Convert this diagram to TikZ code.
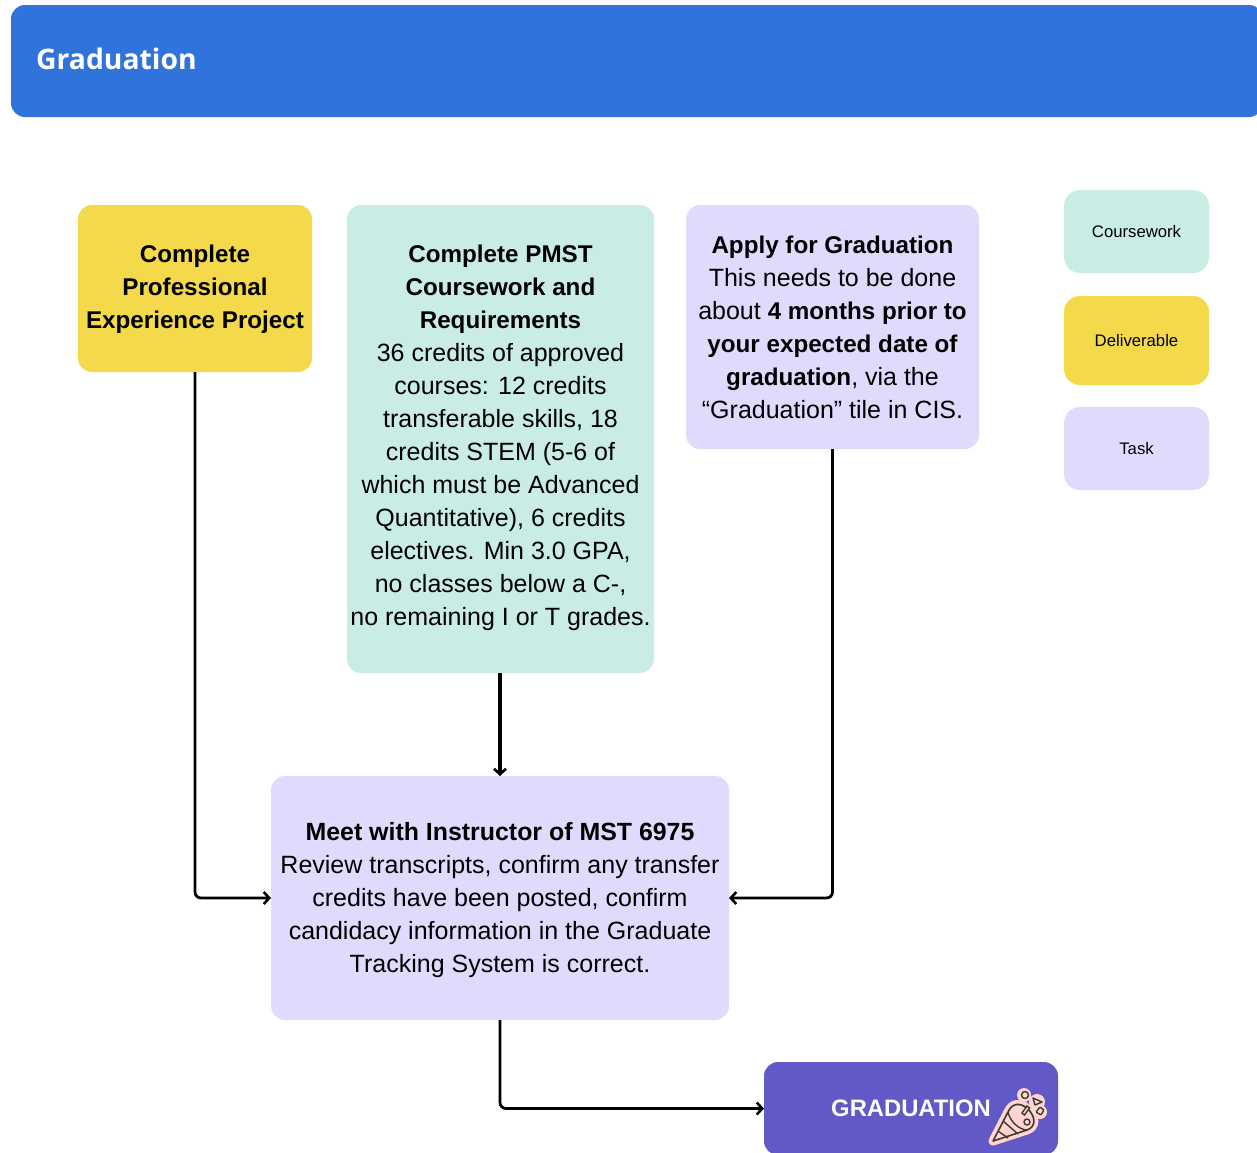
\documentclass[tikz,border=0pt]{standalone}
\usepackage{fontspec}
\setmainfont{Liberation Sans}
\newfontfamily\titlefont{Open Sans}
\usetikzlibrary{arrows.meta}
\definecolor{hdr}{HTML}{3074DB}
\definecolor{teal}{HTML}{C9EDE5}
\definecolor{yel}{HTML}{F4D94A}
\definecolor{lav}{HTML}{E0DBFD}
\definecolor{pur}{HTML}{6059C6}
\definecolor{halo}{HTML}{FFD5CE}
\definecolor{ink}{HTML}{3A3A3A}
\newcommand\boxtext[2]{\raisebox{#1}[0pt][0pt]{\begin{tabular}{@{}c@{}}#2\end{tabular}}}
\newcommand\hb[1]{{\bfseries\fontsize{24.2}{33}\selectfont #1}}
\newcommand\hbw[1]{{\bfseries\fontsize{24.9}{33}\selectfont #1}}
\tikzset{
 x=1pt,y=-1pt,
 card/.style={inner sep=0pt,outer sep=0pt,rounded corners=14pt,text=black,
   font=\fontsize{25}{33}\selectfont},
 legendcard/.style={card,rounded corners=16pt,font=\fontsize{16.7}{20}\selectfont},
 conn/.style={line width=2.8pt,rounded corners=6pt,-{Straight Barb[length=5.5pt,width=12pt,line width=2.6pt]}},
}
\newcommand\cardat[7]{% name, x0,y0,x1,y1, colour, text
 \node[card,fill=#6,minimum width={(#4-#2)*1pt},minimum height={(#5-#3)*1pt}] (#1) at ({(#2+#4)/2},{(#3+#5)/2}) {#7};}
\begin{document}
\begin{tikzpicture}
\useasboundingbox (0,0) rectangle (1257,1152);
\begin{scope}
\clip (0,0) rectangle (1257,1152);
\node[card,fill=hdr,minimum width=1252pt,minimum height=112pt,text=white] (header) at (637,61) {};
\node[anchor=west,inner sep=0pt,text=white,font=\titlefont\bfseries\fontsize{28.3}{36}\selectfont] (title) at (36,59) {Graduation};
\cardat{project}{78}{205}{312}{372}{yel}{\boxtext{-7pt}{\hb{Complete}\\\hb{Professional}\\\hb{Experience Project}}}
\cardat{course}{347}{205}{654}{673}{teal}{\boxtext{-4.5pt}{\hb{Complete PMST}\\\hb{Coursework and}\\\hb{Requirements}\\36 credits of approved\\courses: 12 credits\\transferable skills, 18\\credits STEM (5-6 of\\which must be Advanced\\Quantitative), 6 credits\\electives. Min 3.0 GPA,\\no classes below a C-,\\no remaining I or T grades.}}
\cardat{apply}{686}{205}{979}{449}{lav}{\boxtext{-9pt}{\hb{Apply for Graduation}\\This needs to be done\\about \hb{4 months prior to}\\\hb{your expected date of}\\\hb{graduation}, via the\\“Graduation” tile in CIS.}}
\cardat{meet}{271}{776}{729}{1020}{lav}{\boxtext{-8.5pt}{\hbw{Meet with Instructor of MST 6975}\\Review transcripts, confirm any transfer\\credits have been posted, confirm\\candidacy information in the Graduate\\Tracking System is correct.}}
\cardat{grad}{764}{1062}{1058}{1155}{pur}{}
\node[inner sep=0pt,text=white,font=\bfseries\fontsize{23.8}{30}\selectfont] (gradtext) at (911,1108.5) {GRADUATION};
\node[legendcard,fill=teal,minimum width=145pt,minimum height=83pt] (lc) at (1136.5,231.5) {Coursework};
\node[legendcard,fill=yel,minimum width=145pt,minimum height=89pt] (ld) at (1136.5,340.5) {Deliverable};
\node[legendcard,fill=lav,minimum width=145pt,minimum height=83pt] (lt) at (1136.5,448.5) {Task};
\draw[conn] (project.south) |- (meet.west);
\draw[conn,line width=3.1pt] (course.south -| meet.north) -- (meet.north);
\draw[conn] (apply.south) |- (meet.east);
\draw[conn] (meet.south) |- (grad.west);
% confetti cone icon
\def\conepath{(993,1141) -- (1008,1112) .. controls (1012,1103) and (1020,1102) .. (1028,1109) .. controls (1036,1117) and (1036,1127) .. (1027,1130) -- cycle}
\draw[halo,fill=halo,line width=9pt,line join=round] \conepath;
\fill[halo] (1024,1095) circle (7) (1037,1102) circle (8) (1040,1112) circle (7);
\draw[ink,line width=1.6pt,line join=round] \conepath;
\draw[ink,line width=1.4pt] (1008,1112) .. controls (1010,1122) and (1020,1130) .. (1027,1130)
  (1003,1121) -- (1018,1134) (998,1131) -- (1008,1138);
\draw[ink,line width=1.4pt] (1025,1095) circle (3.5);
\draw[ink,line width=1.4pt,line join=round] (1033,1098) -- (1042,1102) -- (1035,1105) -- cycle;
\draw[ink,line width=1.4pt,rounded corners=1pt] (1036,1112) -- (1040,1107) -- (1044,1110) -- (1041,1115) -- cycle;
\draw[ink,line width=1.4pt] (1027,1122) circle (3);
\draw[ink,line width=1.4pt,fill=halo] (1022,1113) -- (1027,1106) -- (1029.5,1108) -- (1024.5,1115) -- cycle;
\end{scope}
\end{tikzpicture}
\end{document}
